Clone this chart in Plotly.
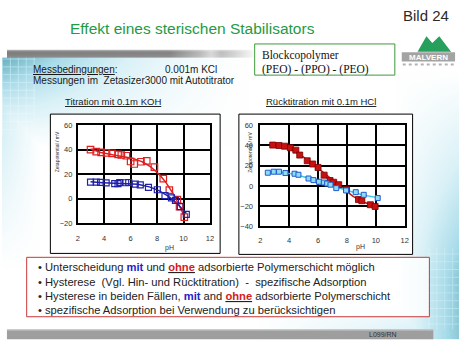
import base64
import struct
import zlib

import numpy as np
import plotly.graph_objects as go

# ---------------- data ----------------
# Titration mit 0.1m KOH (Hinweg)
kohRedPH = [2.97, 3.40, 3.77, 4.18, 4.60, 5.05, 5.30, 5.68, 6.00, 6.27, 6.78, 7.22, 7.80, 8.47, 8.93, 9.53, 9.70, 10.06]
kohRedZeta = [40.0, 38.4, 37.8, 37.3, 37.0, 36.2, 35.6, 35.0, 30.3, 28.3, 30.1, 30.8, 25.8, 16.3, 7.0, -0.8, -6.4, -15.0]
kohBluePH = [2.97, 3.40, 3.73, 4.15, 4.80, 5.05, 5.18, 5.63, 5.86, 6.35, 6.73, 7.35, 8.02, 8.60, 9.09, 9.39, 9.76, 10.21]
kohBlueZeta = [13.5, 13.5, 13.3, 12.9, 12.2, 12.2, 13.2, 13.0, 13.2, 11.8, 11.3, 9.2, 7.3, 2.6, 0.6, -1.3, -6.5, -12.8]

# Rücktitration mit 0.1m HCl
hclRedPH = [2.86, 3.29, 3.68, 4.08, 4.46, 4.73, 5.25, 5.63, 6.00, 6.42, 6.83, 7.08, 7.43, 7.97, 8.80, 9.03, 9.62, 9.95]
hclRedZeta = [40.3, 39.9, 39.2, 37.6, 35.3, 30.4, 24.8, 21.6, 18.2, 10.6, 5.3, 3.6, 1.2, -3.5, -13.5, -14.6, -18.6, -20.3]
hclBluePH = [2.52, 2.93, 3.29, 3.74, 4.37, 4.64, 5.34, 5.68, 6.06, 6.40, 6.63, 6.86, 7.26, 7.94, 8.61, 9.16, 10.13]
hclBlueZeta = [13.0, 14.0, 14.0, 12.7, 12.0, 11.0, 7.3, 5.7, 4.1, 3.3, 2.3, 1.2, -2.2, -4.5, -6.2, -8.8, -12.0]

xTicks = [2, 4, 6, 8, 10, 12]
yTicksKOH = [-20, 0, 20, 40, 60]
yTicksHCl = [-40, -20, 0, 20, 40, 60]

W, H = 463, 350
SANS = "Liberation Sans, Arial, sans-serif"
SERIF = "Liberation Serif, Times New Roman, serif"


# ---------------- slide background bitmap ----------------
def png_uri(rgb):
    h, w, _ = rgb.shape
    raw = b"".join(b"\x00" + rgb[i].tobytes() for i in range(h))

    def chunk(tag, data):
        return (struct.pack(">I", len(data)) + tag + data
                + struct.pack(">I", zlib.crc32(tag + data) & 0xFFFFFFFF))

    png = (b"\x89PNG\r\n\x1a\n"
           + chunk(b"IHDR", struct.pack(">IIBBBBB", w, h, 8, 2, 0, 0, 0))
           + chunk(b"IDAT", zlib.compress(raw, 9)) + chunk(b"IEND", b""))
    return "data:image/png;base64," + base64.b64encode(png).decode()


X, Y = np.meshgrid(np.arange(W) + 0.5, np.arange(H) + 0.5)
c = lambda v: np.clip(v, 0, 1)
z = 0.95 * c(1 - X / 250) ** 1.4 * c(1 - (Y - 55) / 90) * (Y >= 55)
z = np.maximum(z, 0.45 * c(1 - X / 38) * c(1 - (Y - 100) / 170) * (Y >= 55))
z = np.maximum(z, 0.78 * c((X - 400) / 63) ** 0.8 * c((Y - 70) / 210))
z = np.maximum(z, 0.35 * c((X - 260) / 180) * c((Y - 300) / 34))
# faint tile pattern in the teal corners
tile = ((X.astype(int) % 8 == 0) | (Y.astype(int) % 8 == 0))
z = np.where(tile & (X < 34) & (Y > 55) & (Y < 135), z * 0.75, z)
z = np.where(tile & (X > 430) & (Y > 250) & (Y < 334), z * 0.8, z)
z[(Y < 55) | (Y > 344)] = 0
stops = [0, 0.35, 0.65, 1]
cols = np.array([[255, 255, 255], [217, 241, 247], [169, 220, 234], [94, 168, 181]], float)
rgb = np.stack([np.interp(z, stops, cols[:, k]) for k in range(3)], axis=-1)

# top grey bar fading out to the right
shade = np.interp(X, [5, 170, 200, 212, 222, 235, 258], [1, 0.95, 0.55, 0.3, 0.5, 0.35, 0.0])
rowf = np.interp(Y, [47, 49, 51, 55], [0.55, 1, 1, 0.9])
bar = (Y >= 47) & (Y < 55) & (X >= 5) & (X < 258)
grey = 255 - shade * rowf * (255 - 127)
for k in range(3):
    rgb[..., k] = np.where(bar, grey, rgb[..., k])
bg_uri = png_uri(np.clip(rgb, 0, 255).astype(np.uint8))

# ---------------- figure ----------------
fig = go.Figure()


def fit_curve(px, pz, deg=3):
    coef = np.polyfit(px, pz, deg)
    xs = np.linspace(min(px), max(px), 120)
    return xs, np.polyval(coef, xs)


xs, ys = fit_curve(kohRedPH, kohRedZeta)
fig.add_trace(go.Scatter(x=xs, y=ys, mode="lines", line=dict(color="#e02020", width=1.5),
                         xaxis="x", yaxis="y", hoverinfo="skip"))
xs, ys = fit_curve(kohBluePH, kohBlueZeta)
fig.add_trace(go.Scatter(x=xs, y=ys, mode="lines", line=dict(color="#2020a8", width=1.5),
                         xaxis="x", yaxis="y", hoverinfo="skip"))
fig.add_trace(go.Scatter(x=kohRedPH, y=kohRedZeta, mode="markers", xaxis="x", yaxis="y",
                         marker=dict(symbol="square-open", size=6.5, color="#e02020",
                                     line=dict(width=1.2))))
fig.add_trace(go.Scatter(x=kohBluePH, y=kohBlueZeta, mode="markers", xaxis="x", yaxis="y",
                         marker=dict(symbol="square-open", size=6, color="#2020a8",
                                     line=dict(width=1.2))))

xs, ys = fit_curve(hclRedPH, hclRedZeta)
fig.add_trace(go.Scatter(x=xs, y=ys, mode="lines", line=dict(color="#cc1515", width=1.5),
                         xaxis="x2", yaxis="y2", hoverinfo="skip"))
xs, ys = fit_curve(hclBluePH, hclBlueZeta)
fig.add_trace(go.Scatter(x=xs, y=ys, mode="lines", line=dict(color="#38c8ec", width=1.5),
                         xaxis="x2", yaxis="y2", hoverinfo="skip"))
fig.add_trace(go.Scatter(x=hclRedPH, y=hclRedZeta, mode="markers", xaxis="x2", yaxis="y2",
                         marker=dict(symbol="square", size=6, color="#c81010",
                                     line=dict(color="#7a0000", width=0.8))))
fig.add_trace(go.Scatter(x=hclBluePH, y=hclBlueZeta, mode="markers", xaxis="x2", yaxis="y2",
                         marker=dict(symbol="square", size=5, color="#8fdcf2",
                                     line=dict(color="#1e5ad0", width=1))))

# ---------------- decoration shapes (pixel -> paper) ----------------
px = lambda v: v / W
py = lambda v: 1 - v / H
shapes = []


def rect(x0, y0, x1, y1, fill, line=None, width=1):
    shapes.append(dict(type="rect", xref="paper", yref="paper", layer="below",
                       x0=px(x0), x1=px(x1), y0=py(y1), y1=py(y0), fillcolor=fill,
                       line=dict(color=line if line else "rgba(0,0,0,0)", width=width if line else 0)))


rect(5, 334, 437, 344, "#9e9e9e")
rect(5, 334, 437, 335, "#c8c8c8")
rect(256, 41, 398, 73, "#ffffff", "#3d9a3d", 1)
shapes.append(dict(type="path", xref="paper", yref="paper", layer="below",
                   path="M {} {} L {} {} L {} {} L {} {} L {} {} Z".format(
                       px(421), py(49), px(430), py(33), px(436), py(40),
                       px(443), py(33), px(455), py(49)),
                   fillcolor="#26a05c", line=dict(width=0)))
rect(405, 49.5, 459, 59, "#a3a3a3")
shapes.append(dict(type="line", xref="paper", yref="paper", layer="below",
                   x0=px(406), x1=px(458), y0=py(62), y1=py(62),
                   line=dict(color="#b4b4b4", width=2, dash="dot")))
rect(49, 113, 221, 256, "#ffffff", "#000000", 1)
rect(240, 113, 416, 257, "#ffffff", "#000000", 1)
rect(25, 260, 433, 321, "rgba(255,255,255,0.8)", "#c83838", 1)


def px_dom_x(a, b):
    return [a / W, b / W]


def px_dom_y(top, bottom):
    return [1 - bottom / H, 1 - top / H]


chart_axis = dict(showgrid=True, gridcolor="#000000", gridwidth=1.5, showline=True, mirror=True,
                  linecolor="#000000", linewidth=1.5, zeroline=False, ticks="",
                  tickfont=dict(family=SANS, size=7.5, color="#333333"), fixedrange=True)

fig.update_layout(
    width=W, height=H, margin=dict(l=0, r=0, t=0, b=0),
    paper_bgcolor="#ffffff", plot_bgcolor="rgba(0,0,0,0)", showlegend=False,
    images=[dict(source=bg_uri, xref="paper", yref="paper", x=0, y=1, sizex=1, sizey=1,
                 xanchor="left", yanchor="top", sizing="stretch", layer="below")],
    shapes=shapes,
    xaxis=dict(chart_axis, domain=px_dom_x(76.7, 210.7), anchor="y", range=[2, 12],
               tickvals=xTicks, ticklabelstandoff=7),
    yaxis=dict(chart_axis, domain=px_dom_y(124.3, 225), anchor="x", range=[-20, 60],
               tickvals=yTicksKOH, ticklabelstandoff=2),
    xaxis2=dict(chart_axis, domain=px_dom_x(261.7, 408), anchor="y2", range=[2, 12],
                tickvals=xTicks, ticklabelstandoff=6),
    yaxis2=dict(chart_axis, domain=px_dom_y(124.3, 228.3), anchor="x2", range=[-40, 60],
                tickvals=yTicksHCl, ticklabelstandoff=4),
)

ann = []


def text(x, y, s, size, color="#222222", family=SANS, xanchor="left", angle=0):
    ann.append(dict(x=px(x), y=py(y), xref="paper", yref="paper", text=s, showarrow=False,
                    xanchor=xanchor, yanchor="middle", textangle=angle,
                    font=dict(family=family, size=size, color=color)))


text(193, 25, "Effekt eines sterischen Stabilisators", 15.5, "#259a45", xanchor="center")
text(455, 12, "Bild 24", 15, "#2a2a2a", xanchor="right")
text(261, 53, "Blockcopolymer", 11.5, "#111111", SERIF)
text(261, 67, "(PEO) - (PPO) - (PEO)", 11.5, "#111111", SERIF)
text(432, 54.5, "<b>MALVERN</b>", 8, "#ffffff", xanchor="center")
text(29, 67, "<u>Messbedingungen</u>:", 10, "#1a1a1a")
text(163, 67, "0.001m KCl", 10, "#1a1a1a")
text(29, 79, "Messungen im  Zetasizer3000 mit Autotitrator", 10, "#1a1a1a")
text(112, 100, "<u>Titration mit 0.1m KOH</u>", 9.5, "#1a1a1a", xanchor="center")
text(323, 100, "<u>Rücktitration mit 0.1m HCl</u>", 9.5, "#1a1a1a", xanchor="center")
text(170, 250, "pH", 7, "#333333", xanchor="center")
text(363, 249, "pH", 7, "#333333", xanchor="center")
text(56, 152, "Zetapotential / mV", 5, "#333333", xanchor="center", angle=-90)
text(251, 152, "Zetapotential / mV", 5, "#333333", xanchor="center", angle=-90)

blue = "<b><span style='color:#2323c8'>mit</span></b>"
red = "<b><u><span style='color:#d42020'>ohne</span></u></b>"
text(34, 270, f"• Unterscheidung {blue} und {red} adsorbierte Polymerschicht möglich", 11.2)
text(34, 285, "• Hysterese  (Vgl. Hin- und Rücktitration)  -  spezifische Adsorption", 11.2)
text(34, 300, f"• Hysterese in beiden Fällen, {blue} and {red} adsorbierte Polymerschicht", 11.2)
text(34, 314, "• spezifische Adsorption bei Verwendung zu berücksichtigen", 11.2)
text(370, 339, "L099/RN", 7, "#333333")

fig.update_layout(annotations=ann)
fig.write_html("out.html")
